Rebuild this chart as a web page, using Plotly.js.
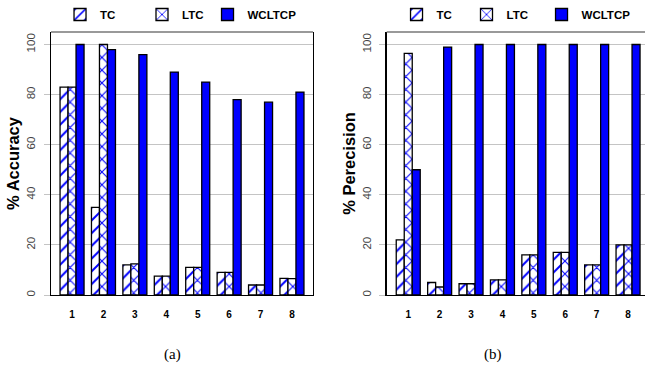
<!DOCTYPE html>
<html>
<head>
<meta charset="utf-8">
<script src="https://cdn.plot.ly/plotly-3.0.1.min.js"></script>
<style>html,body{margin:0;padding:0;background:#fff;}#chart{width:645px;height:375px;}</style>
</head>
<body>
<div id="chart"></div>
<script>
// ---- data ----
var groups = [1, 2, 3, 4, 5, 6, 7, 8];
var groupLabels = ['1', '2', '3', '4', '5', '6', '7', '8'];
var seriesNames = ['TC', 'LTC', 'WCLTCP'];
var accTC     = [83, 35, 12, 7.5, 11, 9, 4, 6.6];
var accLTC    = [83, 100, 12.4, 7.5, 11, 9, 4, 6.5];
var accWCLTCP = [100, 98, 96, 89, 85, 78, 77, 81];
var preTC     = [22, 5, 4.5, 6, 16, 17, 12, 20];
var preLTC    = [96.5, 3.2, 4.5, 6, 16, 17, 12, 20];
var preWCLTCP = [50, 99, 100, 100, 100, 100, 100, 100];
var yTickVals = [0, 20, 40, 60, 80, 100];
var yTitles = ['% Accuracy', '% Perecision'];
var captions = ['(a)', '(b)'];

var BLUE = '#0000FF';
var SANS = "'Liberation Sans', Arial, sans-serif";
var SERIF = "'Liberation Serif', 'Times New Roman', serif";
var markerStyles = [
  {color: '#ffffff', line: {color: '#000', width: 1.3}, pattern: {shape: '/', fgcolor: BLUE, bgcolor: '#ffffff', size: 9, solidity: 0.22}},
  {color: '#ffffff', line: {color: '#000', width: 1.3}, pattern: {shape: 'x', fgcolor: BLUE, bgcolor: '#ffffff', size: 9, solidity: 0.22}},
  {color: BLUE, line: {color: '#000', width: 1.3}}
];

var panels = [
  {xa: 'x', ya: 'y', vals: [accTC, accLTC, accWCLTCP], legends: ['legend', 'legend2', 'legend3']},
  {xa: 'x2', ya: 'y2', vals: [preTC, preLTC, preWCLTCP], legends: ['legend4', 'legend5', 'legend6']}
];

var traces = [];
panels.forEach(function (p) {
  p.vals.forEach(function (v, i) {
    traces.push({
      type: 'bar', x: groups, y: v, name: seriesNames[i],
      xaxis: p.xa, yaxis: p.ya, marker: markerStyles[i],
      legend: p.legends[i], showlegend: true, hoverinfo: 'skip'
    });
  });
});

function xax(domain, range) {
  return {
    domain: domain, range: range, tickvals: groups, ticktext: groupLabels,
    showgrid: false, zeroline: false, showline: true, linecolor: '#000', linewidth: 1.3,
    ticks: '', ticklabelstandoff: 10,
    tickfont: {family: SANS, size: 10, color: '#000', weight: 'bold'},
    fixedrange: true
  };
}
function yax(anchor, title, mirror, standoff) {
  return {
    anchor: anchor, range: [0, 105], tickvals: yTickVals, ticktext: yTickVals.map(String),
    tickangle: -90, showgrid: true, gridcolor: '#c4c4c4', gridwidth: 1,
    zeroline: false, showline: true, linecolor: '#000', linewidth: 1.3, mirror: mirror,
    ticks: 'outside', ticklen: 6, tickcolor: '#c4c4c4', ticklabelstandoff: 4,
    tickfont: {family: SANS, size: 11.5, color: '#444'},
    title: {text: title, standoff: standoff, font: {family: SANS, size: 16.5, color: '#000', weight: 'bold'}},
    fixedrange: true
  };
}

function leg(x) {
  return {
    x: x, y: 1.068, xanchor: 'left', yanchor: 'middle', orientation: 'h',
    bgcolor: 'rgba(0,0,0,0)', borderwidth: 0, itemwidth: 30,
    font: {family: SANS, size: 11.5, color: '#000', weight: 'bold'}
  };
}

var layout = {
  width: 645, height: 375,
  margin: {l: 51, r: 0, t: 32, b: 80},
  paper_bgcolor: '#fff', plot_bgcolor: '#fff',
  barmode: 'group', bargap: 0.236, bargroupgap: 0,
  xaxis: xax([0, 0.4411], [0.33, 8.67]),
  yaxis: yax('x', yTitles[0], true, 1),
  xaxis2: xax([0.5652, 1], [0.315, 8.54]),
  yaxis2: yax('x2', yTitles[1], false, 1),
  legend: leg(0.0152), legend2: leg(0.1532), legend3: leg(0.2635),
  legend4: leg(0.5817), legend5: leg(0.6995), legend6: leg(0.8258),
  shapes: [
    {type: 'line', xref: 'x domain', yref: 'y domain', x0: 0, x1: 1, y0: 1, y1: 1, line: {color: '#777', width: 1.3}},
    {type: 'line', xref: 'x2 domain', yref: 'y2 domain', x0: 0, x1: 1, y0: 1, y1: 1, line: {color: '#777', width: 1.3}}
  ],
  annotations: [
    {text: captions[0], xref: 'x domain', yref: 'y domain', x: 0.462, y: -0.228, showarrow: false, xanchor: 'center', yanchor: 'middle',
     font: {family: SERIF, size: 15, color: '#000'}},
    {text: captions[1], xref: 'x2 domain', yref: 'y2 domain', x: 0.41, y: -0.228, showarrow: false, xanchor: 'center', yanchor: 'middle',
     font: {family: SERIF, size: 15, color: '#000'}}
  ]
};

Plotly.newPlot('chart', traces, layout, {displayModeBar: false, staticPlot: true});
</script>
</body>
</html>
